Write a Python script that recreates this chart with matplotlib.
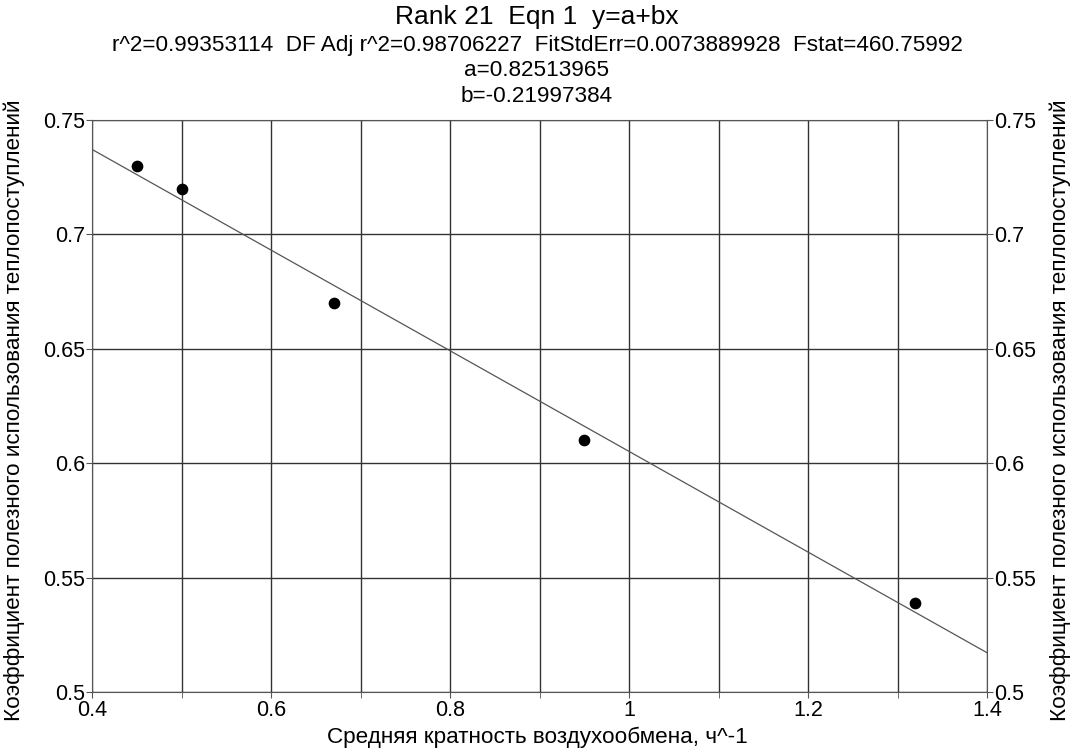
import numpy as np
import matplotlib
matplotlib.use('Agg')
import matplotlib.pyplot as plt
from matplotlib.ticker import MultipleLocator, FuncFormatter

plt.rcParams['font.family'] = ['Liberation Sans', 'DejaVu Sans']

# данные
x_pts = [0.45, 0.50, 0.67, 0.95, 1.32]
y_pts = [0.730, 0.720, 0.670, 0.610, 0.539]
a = 0.82513965
b = -0.21997384

title = "Rank 21  Eqn 1  y=a+bx"
stats = "r^2=0.99353114  DF Adj r^2=0.98706227  FitStdErr=0.0073889928  Fstat=460.75992"
x_label = "Средняя кратность воздухообмена, ч^-1"
y_label = "Коэффициент полезного использования теплопоступлений"

fig = plt.figure(figsize=(10.74, 7.52), dpi=100)
ax = fig.add_axes([92 / 1074, 1 - 692 / 752, 895 / 1074, 572 / 752])

# линия регрессии
xl = np.linspace(0.4, 1.4, 50)
ax.plot(xl, a + b * xl, color='#555555', lw=0.9, zorder=2)
ax.scatter(x_pts, y_pts, s=55, color='black', zorder=3)

ax.set_xlim(0.4, 1.4)
ax.set_ylim(0.5, 0.75)
ax.xaxis.set_major_locator(MultipleLocator(0.2))
ax.xaxis.set_minor_locator(MultipleLocator(0.1))
ax.yaxis.set_major_locator(MultipleLocator(0.05))
fmt = FuncFormatter(lambda v, p: ('%g' % round(v, 3)))
ax.xaxis.set_major_formatter(fmt)
ax.yaxis.set_major_formatter(fmt)

ax.grid(True, which='both', color='#333333', lw=1.0, zorder=1)
for s in ax.spines.values():
    s.set_color('#555555')
ax.tick_params(which='both', direction='out', length=4, color='#555555',
               labelsize=15.5, pad=1, right=True, labelright=True)
ax.tick_params(axis='x', pad=2)

# подписи осей
fig.text(0.5, 1 - 737 / 752, x_label, fontsize=16.2, ha='center', va='center')
fig.text(14 / 1074, 1 - 410 / 752, y_label, rotation=90, fontsize=16.2,
         ha='center', va='center')
fig.text(1060 / 1074, 1 - 410 / 752, y_label, rotation=90, fontsize=16.2,
         ha='center', va='center')

# заголовок
fig.text(0.5, 1 - 17 / 752, title, ha='center', va='center', fontsize=19)
fig.text(0.5, 1 - 45 / 752, stats, ha='center', va='center', fontsize=16.2)
fig.text(0.5, 1 - 71 / 752, "a=%.8f" % a, ha='center', va='center', fontsize=16.2)
fig.text(0.5, 1 - 97 / 752, "b=%.8f" % b, ha='center', va='center', fontsize=16.2)

fig.savefig('out.png', dpi=100)
